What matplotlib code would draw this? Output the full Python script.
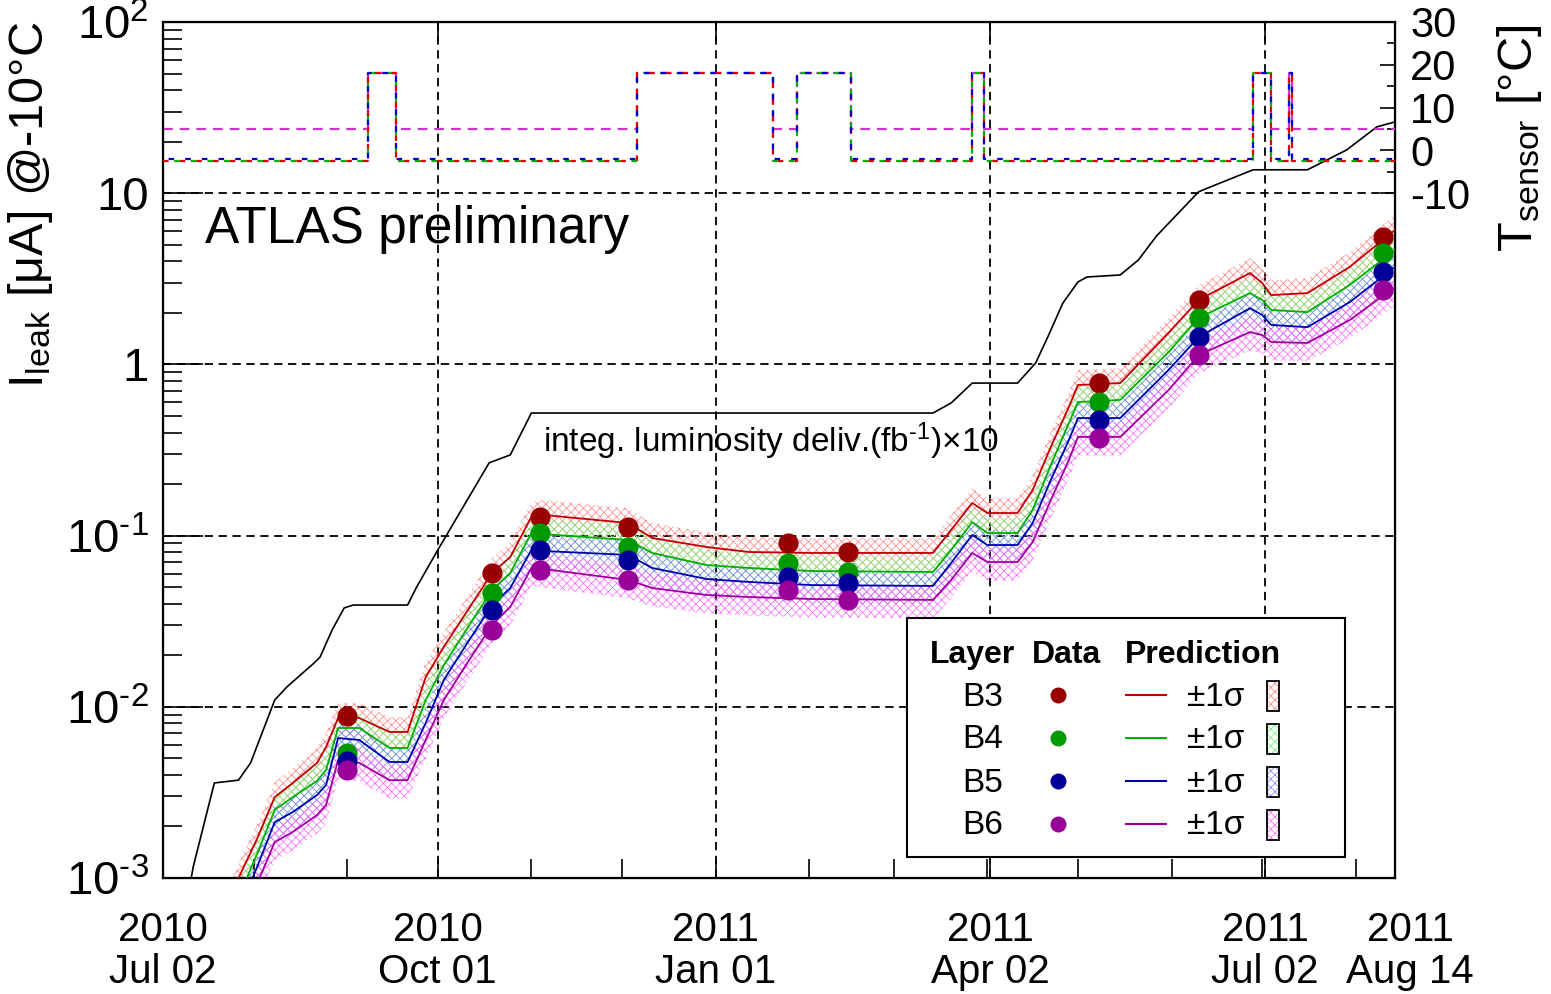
import datetime as dt
import numpy as np
import matplotlib
matplotlib.use('Agg')
import matplotlib.pyplot as plt
import matplotlib.dates as mdates
from matplotlib.patches import Rectangle
from matplotlib.lines import Line2D
from matplotlib.ticker import FixedLocator, NullFormatter, LogLocator
from matplotlib.transforms import ScaledTranslation

plt.rcParams['font.family'] = ['Liberation Sans', 'DejaVu Sans']
plt.rcParams['mathtext.fontset'] = 'custom'
plt.rcParams['mathtext.rm'] = 'Liberation Sans'
plt.rcParams['mathtext.it'] = 'Liberation Sans:italic'
plt.rcParams['mathtext.default'] = 'regular'
plt.rcParams['hatch.linewidth'] = 0.5
plt.rcParams['lines.scale_dashes'] = False

# ---------------- data ----------------
layers = ['B3', 'B4', 'B5', 'B6']

data_dates = ['2010-09-01', '2010-10-19', '2010-11-04', '2010-12-03', '2011-01-25',
              '2011-02-14', '2011-05-08', '2011-06-10', '2011-08-10']
data_B3 = [0.0088, 0.0605, 0.1285, 0.112, 0.0906, 0.080, 0.778, 2.38, 5.55]
data_B4 = [0.0054, 0.046, 0.1035, 0.0857, 0.069, 0.061, 0.602, 1.87, 4.47]
data_B5 = [0.0048, 0.0367, 0.0824, 0.072, 0.057, 0.0528, 0.473, 1.45, 3.47]
data_B6 = [0.0043, 0.0281, 0.063, 0.055, 0.048, 0.042, 0.372, 1.135, 2.72]

pred_dates = ['2010-07-20', '2010-07-27', '2010-08-02', '2010-08-08', '2010-08-14', '2010-08-22',
              '2010-08-25', '2010-08-29', '2010-09-05', '2010-09-15', '2010-09-21', '2010-09-27',
              '2010-10-03', '2010-10-11', '2010-10-19', '2010-10-25', '2010-11-01', '2010-11-05',
              '2010-12-03', '2010-12-11', '2010-12-29', '2011-01-12', '2011-02-02', '2011-03-14',
              '2011-03-20', '2011-03-27', '2011-04-01', '2011-04-11', '2011-04-16', '2011-04-22',
              '2011-04-28', '2011-05-01', '2011-05-15', '2011-05-31', '2011-06-10', '2011-06-27',
              '2011-07-01', '2011-07-04', '2011-07-16', '2011-07-30', '2011-08-14']
pred_B3 = [5.0e-4, 1.0e-3, 1.67e-3, 2.97e-3, 3.59e-3, 4.70e-3, 5.82e-3, 8.60e-3, 8.60e-3, 7.13e-3,
           7.13e-3, 1.49e-2, 2.24e-2, 3.68e-2, 6.05e-2, 7.50e-2, 0.1285, 0.132, 0.1185, 0.0968,
           0.0858, 0.0802, 0.0792, 0.0792, 0.1078, 0.155, 0.1355, 0.1355, 0.1846, 0.329,
           0.564, 0.758, 0.778, 1.525, 2.38, 3.42, 2.99, 2.54, 2.61, 3.71, 6.10]
pred_B4 = [3.9e-4, 7.7e-4, 1.36e-3, 2.50e-3, 2.97e-3, 3.69e-3, 4.27e-3, 7.52e-3, 7.52e-3, 5.75e-3,
           5.75e-3, 1.096e-2, 1.75e-2, 2.92e-2, 4.81e-2, 6.05e-2, 0.1035, 0.102, 0.0942, 0.0792,
           0.0673, 0.0647, 0.0621, 0.0613, 0.0824, 0.120, 0.1035, 0.1035, 0.141, 0.258,
           0.455, 0.603, 0.620, 1.18, 1.87, 2.61, 2.38, 2.08, 2.02, 2.91, 4.66]
pred_B5 = [3.2e-4, 6.3e-4, 1.14e-3, 2.12e-3, 2.43e-3, 3.05e-3, 3.49e-3, 6.57e-3, 6.40e-3, 4.76e-3,
           4.76e-3, 8.04e-3, 1.435e-2, 2.39e-2, 3.93e-2, 4.94e-2, 0.0824, 0.0813, 0.0771, 0.0647,
           0.0558, 0.0536, 0.0514, 0.0508, 0.0692, 0.1008, 0.0881, 0.0881, 0.1185, 0.211,
           0.362, 0.486, 0.486, 0.927, 1.445, 2.13, 1.945, 1.70, 1.65, 2.31, 3.71]
pred_B6 = [2.5e-4, 5.0e-4, 9.1e-4, 1.62e-3, 1.86e-3, 2.33e-3, 2.67e-3, 4.89e-3, 4.70e-3, 3.73e-3,
           3.73e-3, 6.40e-3, 1.096e-2, 1.83e-2, 3.01e-2, 3.83e-2, 0.0647, 0.0638, 0.0551, 0.0494,
           0.0450, 0.0438, 0.0426, 0.0421, 0.0551, 0.0792, 0.0701, 0.0701, 0.0918, 0.161,
           0.277, 0.377, 0.377, 0.708, 1.135, 1.545, 1.486, 1.352, 1.334, 1.816, 2.83]
rel_sigma = [0.22, 0.22, 0.22, 0.22]

lumi_dates = ['2010-07-10', '2010-07-12', '2010-07-19', '2010-07-27', '2010-07-31', '2010-08-08',
              '2010-08-12', '2010-08-21', '2010-08-23', '2010-08-27', '2010-08-31', '2010-09-03',
              '2010-09-21', '2010-09-24', '2010-10-01', '2010-10-18', '2010-10-25', '2010-11-01',
              '2011-03-14', '2011-03-20', '2011-03-27', '2011-04-11', '2011-04-17', '2011-04-21',
              '2011-04-26', '2011-05-01', '2011-05-04', '2011-05-15', '2011-05-21', '2011-05-27',
              '2011-06-10', '2011-06-14', '2011-06-28', '2011-07-16', '2011-07-29', '2011-08-08',
              '2011-08-14']
lumi_x10 = [7.4e-4, 1.16e-3, 3.59e-3, 3.73e-3, 4.70e-3, 1.096e-2, 1.305e-2, 1.80e-2, 1.95e-2,
            2.81e-2, 3.78e-2, 3.93e-2, 3.93e-2, 5.01e-2, 8.24e-2, 0.266, 0.296, 0.520, 0.520,
            0.595, 0.778, 0.778, 1.019, 1.445, 2.28, 3.03, 3.24, 3.33, 4.07, 5.62, 10.2, 10.9,
            13.7, 13.7, 17.9, 24.4, 26.1]

temp_dates = ['2010-07-02', '2010-09-08', '2010-09-17', '2010-12-06', '2011-01-20', '2011-01-28',
              '2011-02-15', '2011-03-27', '2011-03-31', '2011-06-28', '2011-07-04', '2011-07-10',
              '2011-07-11', '2011-08-14']
temp_B3 = [-2.5, 18, -2.5, 18, -2.5, 18, -2.5, 18, -2.5, 18, -2.5, 18, -2.5, -2.5]
temp_B4 = [-2.5, 18, -2.5, 18, -2.5, 18, -2.5, 18, -2.5, 18, -2.5, 18, -2.5, -2.5]
temp_B5 = [-2.0, 18, -2.0, 18, -2.0, 18, -2.0, 18, -2.0, 18, -2.0, 18, -2.0, -2.0]
temp_B6 = [5, 18, 5, 18, 5, 18, 5, 18, 5, 18, 5, 18, 5, 5]

xtick_dates = ['2010-07-02', '2010-10-01', '2011-01-01', '2011-04-02', '2011-07-02', '2011-08-14']
xtick_labels = ['2010\nJul 02', '2010\nOct 01', '2011\nJan 01', '2011\nApr 02', '2011\nJul 02', '2011\nAug 14']
ytick_vals = [1e-3, 1e-2, 1e-1, 1, 10, 100]
ytick_labels = [r'$10^{\text{-}3}$', r'$10^{\text{-}2}$', r'$10^{\text{-}1}$', '1', '10', '$10^{2}$']
ttick_vals = [-10, 0, 10, 20, 30]

# ---------------- style ----------------
marker_colors = ['#990000', '#009900', '#000099', '#990099']
line_colors = ['#c00000', '#00b000', '#0000b0', '#a000a0']
band_colors = ['#ff8080', '#70f070', '#8080ff', '#ff60ff']
temp_colors = ['#e00000', '#00b000', '#0000d0', '#cc33cc']

def D(s):
    return dt.datetime.strptime(s, '%Y-%m-%d')

W, H = 1551, 994
def fx(x):
    return x / W
def fy(y):
    return 1 - y / H

fig = plt.figure(figsize=(W / 100, H / 100), dpi=100)
ax = fig.add_axes([fx(163), fy(878), (1395 - 163) / W, (878 - 22) / H])
ax.set_yscale('log')
ax.set_xlim(D('2010-07-02'), D('2011-08-14'))
ax.set_ylim(1e-3, 1e2)

pdates = [D(s) for s in pred_dates]
preds = [pred_B3, pred_B4, pred_B5, pred_B6]
datas = [data_B3, data_B4, data_B5, data_B6]
temps = [temp_B3, temp_B4, temp_B5, temp_B6]

for i in range(4):
    v = np.array(preds[i])
    s = rel_sigma[i]
    ax.fill_between(pdates, v * (1 - s), v * (1 + s), facecolor='none',
                    edgecolor=band_colors[i], hatch='xxxx', linewidth=0, zorder=2)
for i in range(4):
    ax.plot(pdates, preds[i], color=line_colors[i], lw=1.3, zorder=3)
ax.plot([D(s) for s in lumi_dates], lumi_x10, color='k', lw=1.2, zorder=3)
ddates = [D(s) for s in data_dates]
for i in range(4):
    ax.plot(ddates, datas[i], 'o', ms=14.5, color=marker_colors[i], mew=0, zorder=4)

# axes ticks
ax.xaxis.set_major_locator(FixedLocator([mdates.date2num(D(s)) for s in xtick_dates]))
ax.set_xticklabels(xtick_labels, fontsize=29, linespacing=1.12)
ax.xaxis.set_minor_locator(mdates.MonthLocator())
ax.xaxis.set_minor_formatter(NullFormatter())
ax.tick_params(axis='x', which='major', direction='in', length=14, width=1.2, top=True,
               bottom=True, pad=24)
ax.tick_params(axis='x', which='minor', direction='in', length=14, width=1.2, top=False,
               bottom=True)
lbls = ax.get_xticklabels()
lbls[-1].set_transform(lbls[-1].get_transform() + ScaledTranslation(15 / 100, 0, fig.dpi_scale_trans))

ax.set_yticks(ytick_vals)
ax.set_yticklabels(ytick_labels, fontsize=34)
ax.yaxis.set_minor_locator(LogLocator(base=10, subs=np.arange(2, 10)))
ax.yaxis.set_minor_formatter(NullFormatter())
ax.tick_params(axis='y', which='major', direction='in', length=29, width=1.2, left=True,
               right=True, pad=10)
ax.tick_params(axis='y', which='minor', direction='in', length=14, width=1.2, left=True,
               right=True)
ax.grid(True, which='major', color='k', ls=(0, (6, 4)), lw=1.3, zorder=1)
for sp in ax.spines.values():
    sp.set_linewidth(1.6)

# temperature axis
ax2 = ax.twinx()
ax2.set_ylim(-170, 30)
tdates = [D(s) for s in temp_dates]
offs = [0, 4, 8]
for i in range(3):
    ax2.step(tdates, temps[i], where='post', color=temp_colors[i], lw=1.6,
             ls=(offs[i], (4, 8)), zorder=3)
ax2.step(tdates, temps[3], where='post', color=temp_colors[3], lw=1.6, ls=(0, (7, 5)), zorder=2)
ax2.set_yticks(ttick_vals)
ax2.set_yticklabels([str(t) for t in ttick_vals], fontsize=30)
ax2.yaxis.set_minor_locator(FixedLocator([-5, 5, 15, 25]))
ax2.tick_params(axis='y', which='major', direction='in', length=11, width=1.2, pad=11)
ax2.tick_params(axis='y', which='minor', direction='in', length=6, width=1.2)
ax2.set_xlim(D('2010-07-02'), D('2011-08-14'))

# labels
fig.text(fx(6), fy(205), r'I$_{\rm leak}$ [μA] @-10°C', rotation=90, ha='left', va='center',
         fontsize=35)
fig.text(fx(1495), fy(138), r'T$_{\rm sensor}$ [°C]', rotation=90, ha='left', va='center',
         fontsize=35)
fig.text(fx(205), fy(243), 'ATLAS preliminary', fontsize=37, va='baseline', ha='left')
fig.text(fx(543), fy(452), r'integ. luminosity deliv.(fb$^{\text{-}1}$)×10', fontsize=24,
         va='baseline', ha='left')

# legend (manual)
fig.add_artist(Rectangle((fx(907), fy(857)), (1345 - 907) / W, (857 - 618) / H,
                         transform=fig.transFigure, facecolor='white', edgecolor='black',
                         lw=1.5, zorder=5))
fig.text(fx(930), fy(663), 'Layer', fontsize=23, fontweight='bold', va='baseline', zorder=6)
fig.text(fx(1032), fy(663), 'Data', fontsize=23, fontweight='bold', va='baseline', zorder=6)
fig.text(fx(1125), fy(663), 'Prediction', fontsize=23, fontweight='bold', va='baseline', zorder=6)
row_y = [697, 740, 783, 826]
for i in range(4):
    y = row_y[i]
    fig.text(fx(962), fy(y), layers[i], fontsize=24, va='center', ha='left', zorder=6)
    fig.add_artist(Line2D([fx(1058)], [fy(y - 2)], marker='o', ms=11.5, mew=0,
                          color=marker_colors[i], transform=fig.transFigure, zorder=6))
    fig.add_artist(Line2D([fx(1126), fx(1166)], [fy(y - 2), fy(y - 2)], lw=1.5,
                          color=line_colors[i], transform=fig.transFigure, zorder=6))
    fig.text(fx(1187), fy(y), '±1σ', fontsize=24, va='center', ha='left', zorder=6)
    fig.add_artist(Rectangle((fx(1267), fy(y + 14)), 12 / W, 30 / H, transform=fig.transFigure,
                             facecolor='white', edgecolor=band_colors[i], hatch='xxxx', lw=0,
                             zorder=6))
    fig.add_artist(Rectangle((fx(1267), fy(y + 14)), 12 / W, 30 / H, transform=fig.transFigure,
                             facecolor='none', edgecolor='black', lw=1.3, zorder=7))

fig.savefig('out.png', dpi=100)
